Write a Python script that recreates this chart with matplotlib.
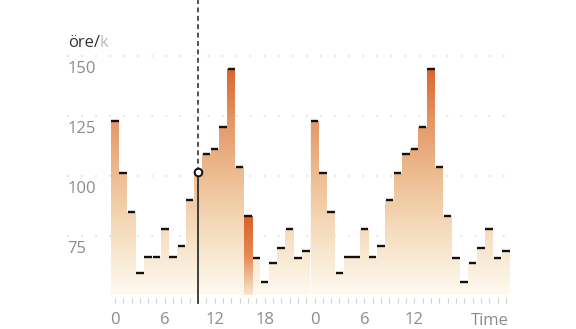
import matplotlib
matplotlib.use("Agg")
import matplotlib.pyplot as plt
import numpy as np
from matplotlib.colors import LinearSegmentedColormap
from matplotlib.path import Path
from matplotlib.transforms import blended_transform_factory

# hourly price, two days (öre/kWh)
hours = list(range(48))
prices = [123, 101.5, 85.1, 59.7, 66.2, 66.2, 77.9, 66.2, 71.1, 90.3, 101.7, 109.3,
          111.5, 120.7, 144.7, 103.7, 83.3, 66.1, 55.8, 63.7, 70, 77.9, 66.1, 68.75,
          123, 101.5, 85.1, 59.7, 66.2, 66.2, 77.9, 66.2, 71.1, 90.3, 101.5, 109.3,
          111.5, 120.7, 144.7, 103.7, 83.3, 66.1, 55.8, 63.7, 70, 77.9, 66.1, 68.75]
tick_labels = ["0" if h in (0, 24) else "6" if h in (6, 30) else "12" if h in (12, 36)
               else "18" if h == 18 else "" for h in hours]
grid_values = [150, 125, 100, 75]
selected_hour = 10
current_hour = 16

y0, y1 = 50.5, 155
plt.rcParams['font.family'] = ['Open Sans', 'DejaVu Sans']

fig = plt.figure(figsize=(5.76, 3.29), dpi=100)
ax = fig.add_axes([0.1922, 0.1033, 0.6932, 0.762])
ax.set_xlim(-0.5, 47.5)
ax.set_ylim(y0, y1)

# dotted grid lines + labels sitting under them
trans = blended_transform_factory(ax.transAxes, ax.transData)
for v in grid_values:
    ax.plot([-0.109, 1.0], [v, v], transform=trans, color='#dddddd', lw=1.1,
            ls=(0, (1.2, 8)), clip_on=False, zorder=0)
    ax.annotate(str(v), xy=(-0.109, v), xycoords=trans, xytext=(0, -9.4),
                textcoords='offset points', ha='left', va='center',
                fontsize=12, color='#8c8c8c')

# bars with gradient fill
others = [h for h in hours if h != current_hour]
bars = ax.bar(others, [prices[h] - y0 for h in others], bottom=y0, width=1.0,
              facecolor='none', edgecolor='none')
clip = Path.make_compound_path(*[b.get_path().transformed(b.get_patch_transform()) for b in bars])
cmap = LinearSegmentedColormap.from_list('price', [
    (0.0, '#fefaf1'), (0.25, '#f6dfc2'), (0.5, '#edbf94'),
    (0.75, '#e49665'), (1.0, '#d95e27')])
grad = np.linspace(y0, y1, 400).reshape(-1, 1)
im = ax.imshow(grad, extent=[-0.5, 47.5, y0, y1], origin='lower', aspect='auto',
               cmap=cmap, vmin=y0, vmax=148, zorder=1)
im.set_clip_path(clip, ax.transData)

cur = ax.bar([current_hour], [prices[current_hour] - y0], bottom=y0, width=1.0,
             facecolor='none', edgecolor='none')[0]
cmap2 = LinearSegmentedColormap.from_list('cur', ['#f7e6d0', '#e48a52', '#d9612a'])
im2 = ax.imshow(np.linspace(0, 1, 200).reshape(-1, 1),
                extent=[current_hour - 0.5, current_hour + 0.5, y0, prices[current_hour]],
                origin='lower', aspect='auto', cmap=cmap2, zorder=1)
im2.set_clip_path(cur)

# day separator
ax.axvline(23.5, color='white', lw=0.6, zorder=2)

# caps
cap_hours = [h for h in hours if h != selected_hour]
ax.hlines([prices[h] for h in cap_hours], [h - 0.45 for h in cap_hours],
          [h + 0.45 for h in cap_hours], color='#111111', lw=1.7, zorder=3)

# selected hour cursor
frac = (prices[selected_hour] - y0) / (y1 - y0)
ax.axvline(selected_hour, ymin=-0.032, ymax=frac, color='#222222', lw=1.2,
           clip_on=False, zorder=4)
ax.axvline(selected_hour, ymin=frac, ymax=1.2, color='#222222', lw=1.1,
           ls=(0, (3.2, 2.3)), clip_on=False, zorder=4)
ax.plot([selected_hour], [prices[selected_hour]], marker='o', ms=5.5,
        mfc='white', mec='#111111', mew=1.4, zorder=5, clip_on=False)

# axes styling
for s in ['top', 'right', 'left']:
    ax.spines[s].set_visible(False)
ax.spines['bottom'].set_position(('outward', 2.2))
ax.spines['bottom'].set_visible(False)
ax.set_yticks([])
ax.set_xticks(hours)
ax.set_xticklabels(tick_labels)
ax.tick_params(axis='x', length=3.6, width=0.8, color='#d0d0d0', pad=6.5,
               labelsize=12, labelcolor='#8c8c8c')

fig.text(509 / 576, 1 - 321 / 329, "Time", ha='right', va='center', fontsize=12,
         color='#8c8c8c')
t = fig.text(68 / 576, 1 - 43 / 329, "öre/", ha='left', va='center', fontsize=12,
             color='#333333')
fig.canvas.draw()
bb = t.get_window_extent()
fig.text(bb.x1 / 576, 1 - 43 / 329, "k", ha='left', va='center', fontsize=12,
         color='#bbbbbb')

fig.savefig('out.png', dpi=100)
